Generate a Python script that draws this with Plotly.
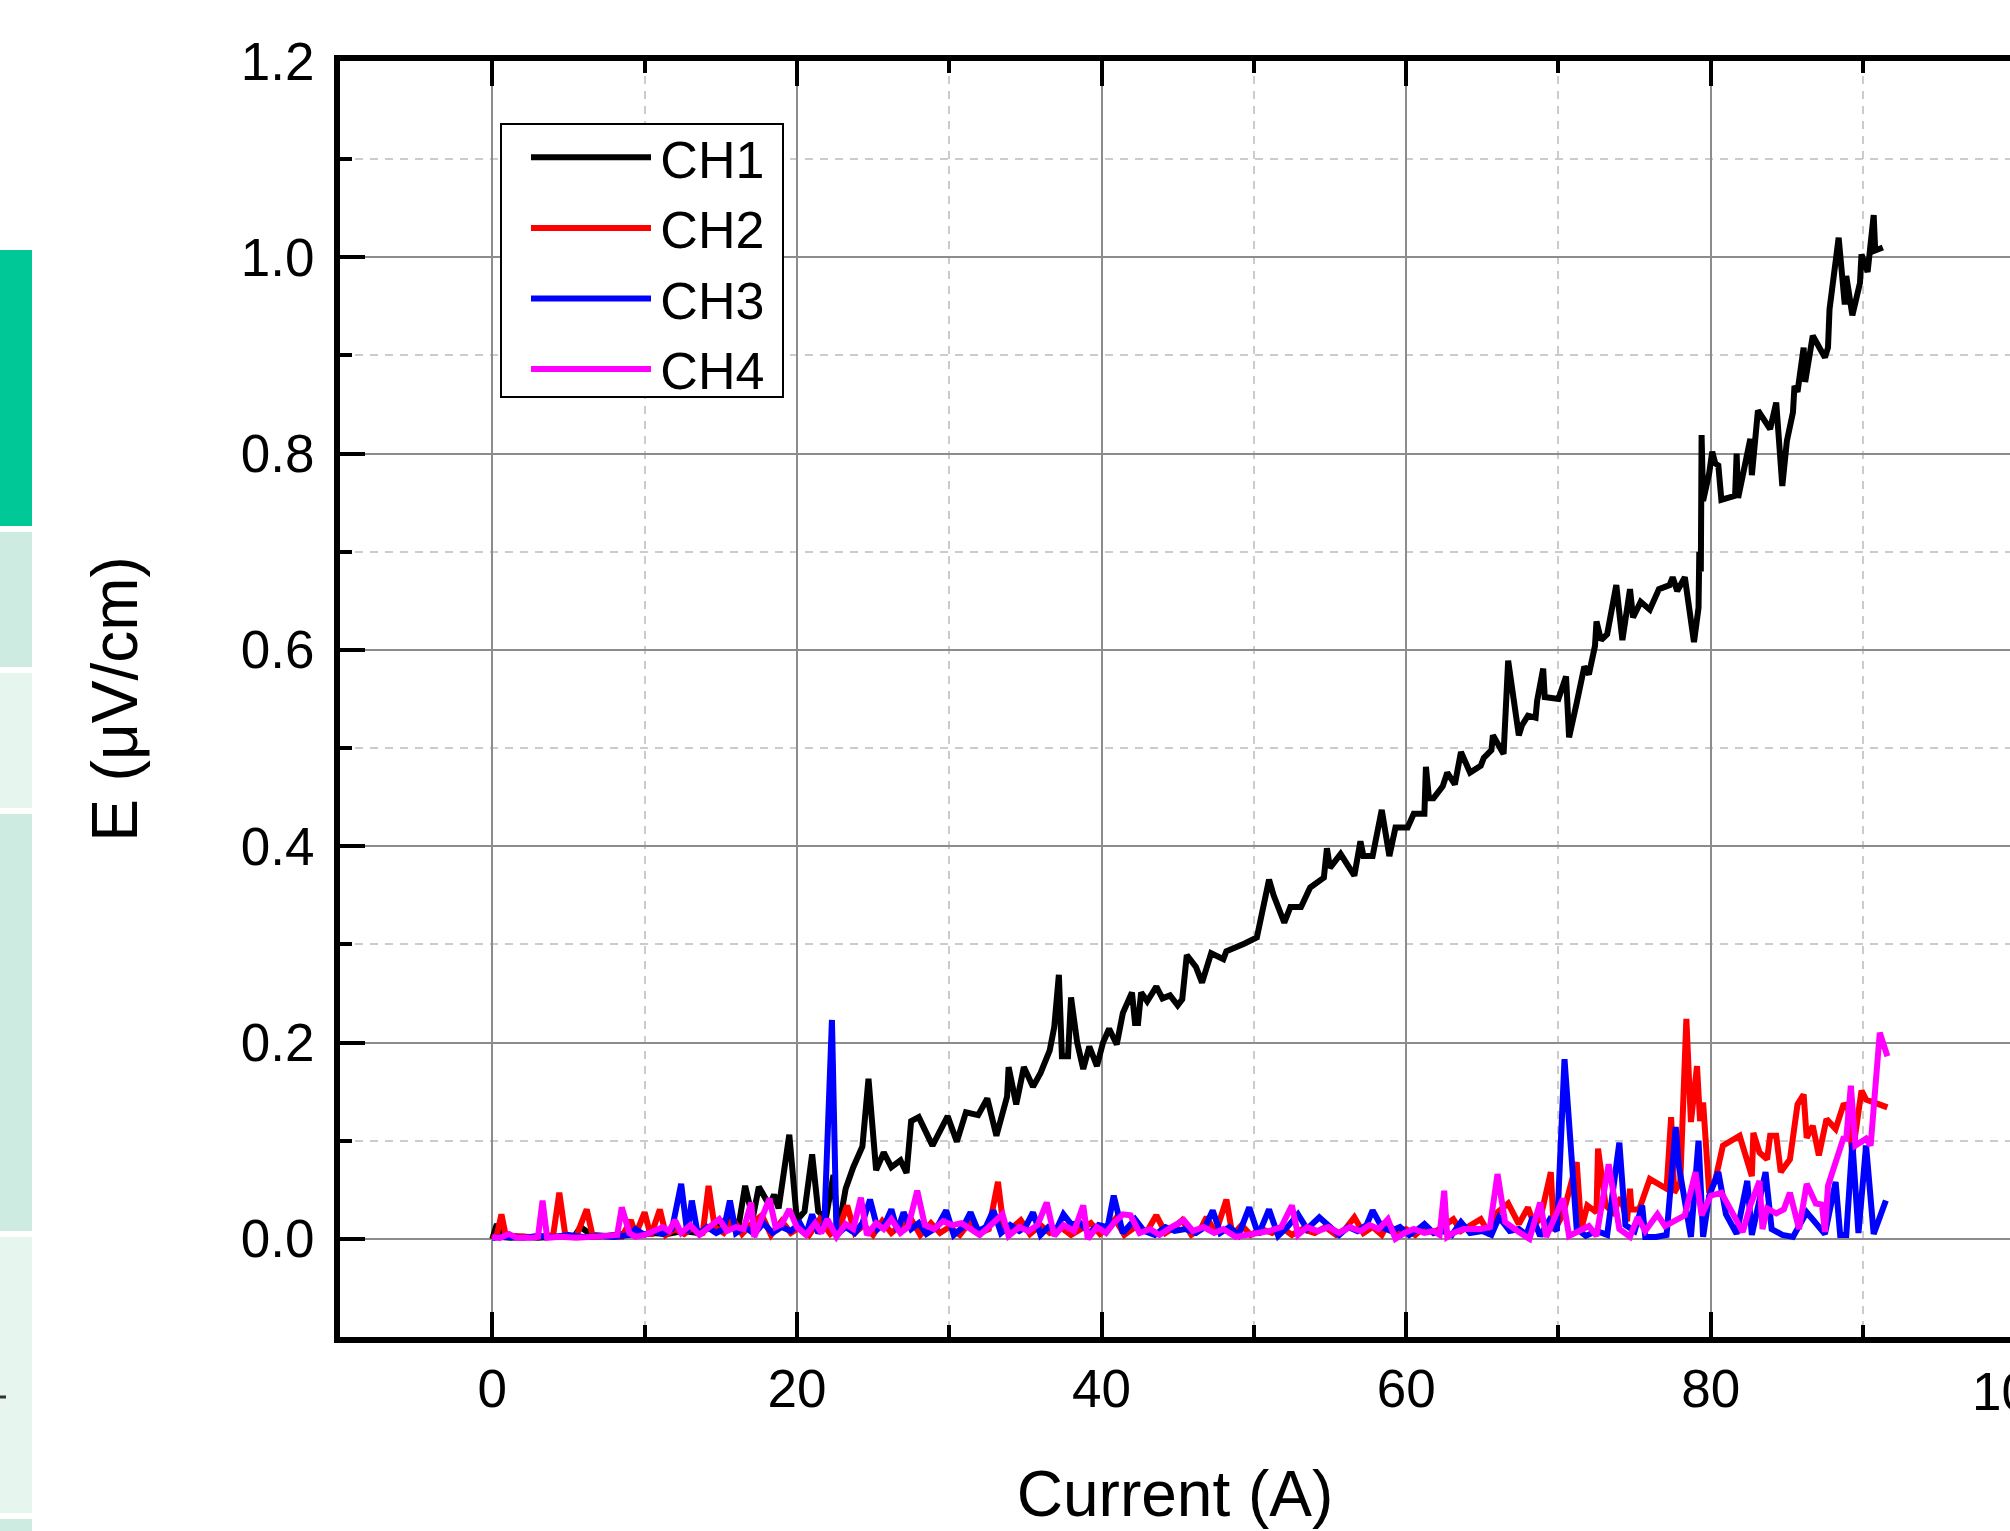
import plotly.graph_objects as go

# E-I curves of the four voltage taps
ch1_current = [0, 0.3, 0.6, 1.2, 2, 3, 4, 5, 5.4, 5.8, 6.5, 7.5, 8.5, 9.5, 10.5, 11.5, 12.5, 13.5,
               14.5, 15, 15.5, 16.2, 16.6, 17.1, 17.5, 18.2, 18.5, 18.8, 19.5, 20, 20.5, 21, 21.4,
               21.9, 22.4, 22.7, 23.2, 23.7, 24.3, 24.7, 25.2, 25.7, 26.2, 26.8, 27.2, 27.5, 28.0,
               28.9, 29.9, 30.5, 31.1, 31.9, 32.5, 33.1, 33.8, 33.9, 34.4, 34.9, 35.5, 36.0, 36.6,
               36.9, 37.2, 37.4, 37.8, 38.0, 38.4, 38.8, 39.2, 39.7, 40.1, 40.5, 41.0, 41.4, 42.0,
               42.2, 42.4, 42.6, 43.0, 43.6, 44.0, 44.5, 45.0, 45.3, 45.6, 46.2, 46.6, 47.2, 48.0,
               48.2, 49.4, 50.2, 51.0, 51.3, 52.0, 52.4, 53.1, 53.7, 54.6, 54.8, 55.0, 55.7, 56.6,
               57.0, 57.2, 57.8, 58.4, 58.9, 59.3, 60.1, 60.5, 61.2, 61.3, 61.5, 61.8, 62.4, 62.7,
               63.2, 63.6, 64.2, 64.9, 65.1, 65.6, 65.7, 66.4, 66.7, 67.4, 67.6, 68.0, 68.5, 68.6,
               69.0, 69.1, 70.0, 70.5, 70.7, 71.2, 71.7, 72.0, 72.4, 72.5, 72.8, 73.2, 73.8, 74.2,
               74.7, 74.9, 75.4, 76.0, 76.6, 77.3, 77.5, 77.8, 78.3, 78.9, 79.2, 79.25, 79.35, 79.4,
               79.5, 79.9, 80.1, 80.3, 80.5, 80.7, 81.6, 81.7, 81.8, 82.6, 82.7, 83.1, 83.9, 84.3,
               84.7, 85.0, 85.4, 85.5, 85.7, 86.1, 86.2, 86.7, 87.5, 87.7, 87.8, 88.4, 88.8, 88.9,
               89.3, 89.8, 89.9, 90.3, 90.7, 90.8, 91.3]
ch1_e = [0.0, 0.015, 0.002, 0.001, 0.002, 0.001, 0.002, 0.003, 0.003, 0.012, 0.004, 0.003, 0.005,
         0.004, 0.006, 0.005, 0.008, 0.006, 0.012, 0.016, 0.021, 0.016, 0.054, 0.021, 0.053, 0.034,
         0.045, 0.031, 0.106, 0.019, 0.028, 0.086, 0.028, 0.021, 0.065, 0.007, 0.051, 0.073, 0.094,
         0.163, 0.07, 0.088, 0.073, 0.08, 0.067, 0.12, 0.124, 0.095, 0.125, 0.099, 0.129, 0.126,
         0.143, 0.105, 0.145, 0.175, 0.137, 0.175, 0.155, 0.169, 0.192, 0.216, 0.269, 0.186, 0.186,
         0.246, 0.2, 0.173, 0.196, 0.176, 0.2, 0.214, 0.198, 0.23, 0.251, 0.22, 0.22, 0.251, 0.242,
         0.257, 0.245, 0.248, 0.238, 0.244, 0.289, 0.277, 0.261, 0.291, 0.285, 0.293, 0.301, 0.307,
         0.366, 0.35, 0.322, 0.338, 0.338, 0.358, 0.368, 0.398, 0.378, 0.392, 0.37, 0.405, 0.39,
         0.39, 0.437, 0.39, 0.419, 0.419, 0.433, 0.433, 0.481, 0.449, 0.449, 0.461, 0.475, 0.463,
         0.496, 0.475, 0.482, 0.49, 0.498, 0.513, 0.494, 0.589, 0.513, 0.523, 0.533, 0.531, 0.548,
         0.581, 0.552, 0.55, 0.573, 0.511, 0.546, 0.583, 0.575, 0.604, 0.629, 0.61, 0.616, 0.666,
         0.61, 0.662, 0.633, 0.649, 0.641, 0.662, 0.666, 0.674, 0.66, 0.674, 0.608, 0.643, 0.70,
         0.68, 0.819, 0.752, 0.78, 0.802, 0.79, 0.788, 0.753, 0.757, 0.80, 0.755, 0.815, 0.778,
         0.844, 0.825, 0.852, 0.767, 0.813, 0.842, 0.869, 0.863, 0.908, 0.873, 0.92, 0.898, 0.908,
         0.947, 1.02, 0.952, 0.981, 0.941, 0.974, 1.003, 0.985, 1.043, 1.007, 1.01]

ch2_current = [0, 0.3, 0.6, 0.9, 1.5, 2.5, 3.5, 4.0, 4.4, 4.8, 5.5, 6.2, 6.6, 7.5, 8.5, 9.1, 9.4,
               10.0, 10.4, 11.0, 11.4, 12.0, 12.6, 13.2, 13.8, 14.2, 14.6, 15.2, 15.8, 16.4, 17.0,
               17.7, 18.3, 19.0, 19.6, 20.2, 20.8, 21.5, 22.2, 22.8, 23.3, 23.8, 24.4, 25.0, 25.6,
               26.2, 26.9, 27.5, 28.1, 28.8, 29.4, 30.0, 30.7, 31.4, 32.0, 32.6, 33.2, 33.6, 34.2,
               34.7, 35.3, 36.0, 36.6, 37.3, 38.0, 38.6, 39.3, 39.9, 40.5, 40.9, 41.5, 42.2, 43.0,
               43.6, 44.2, 44.8, 45.3, 45.9, 46.5, 46.9, 47.5, 48.2, 48.6, 49.2, 49.8, 50.5, 51.2,
               51.8, 52.5, 53.2, 54.0, 54.7, 55.4, 56.0, 56.6, 57.2, 57.8, 58.4, 58.8, 59.4, 60.0,
               60.6, 61.2, 61.8, 62.4, 63.1, 63.6, 64.2, 64.9, 65.5, 66.0, 66.7, 67.4, 68.0, 68.4,
               68.8, 69.5, 69.7, 70.3, 71.2, 71.5, 71.9, 72.5, 72.6, 73.1, 73.6, 74.1, 74.5, 74.7,
               74.8, 75.3, 76.0, 77.1, 77.4, 77.6, 78.0, 78.4, 78.7, 79.1, 79.3, 79.5, 79.9, 80.3,
               80.8, 81.9, 82.7, 82.8, 83.2, 83.7, 83.9, 84.3, 84.6, 85.2, 85.7, 86.1, 86.3, 86.7,
               87.1, 87.6, 88.2, 88.7, 89.0, 89.3, 89.9, 90.2, 91.6]
ch2_e = [0.0, 0.004, 0.025, 0.002, 0.003, 0.002, 0.003, 0.004, 0.047, 0.003, 0.002, 0.03, 0.002,
         0.003, 0.002, 0.019, 0.004, 0.027, 0.003, 0.03, 0.004, 0.01, 0.005, 0.012, 0.004, 0.054,
         0.012, 0.006, 0.02, 0.005, 0.015, 0.024, 0.004, 0.018, 0.006, 0.012, 0.004, 0.02, 0.005,
         0.012, 0.034, 0.006, 0.014, 0.004, 0.018, 0.006, 0.015, 0.02, 0.004, 0.016, 0.006, 0.012,
         0.004, 0.018, 0.006, 0.01, 0.058, 0.008, 0.012, 0.019, 0.005, 0.014, 0.006, 0.012, 0.004,
         0.01, 0.016, 0.005, 0.012, 0.02, 0.004, 0.012, 0.008, 0.024, 0.006, 0.012, 0.019, 0.004,
         0.01, 0.022, 0.006, 0.04, 0.004, 0.014, 0.004, 0.01, 0.006, 0.012, 0.004, 0.01, 0.006,
         0.012, 0.004, 0.01, 0.022, 0.006, 0.012, 0.004, 0.015, 0.006, 0.01, 0.004, 0.012, 0.006,
         0.012, 0.02, 0.008, 0.014, 0.02, 0.004, 0.027, 0.036, 0.015, 0.032, 0.015, 0.02, 0.068,
         0.008, 0.025, 0.078, 0.01, 0.034, 0.027, 0.092, 0.034, 0.027, 0.042, 0.018, 0.051, 0.03,
         0.03, 0.061, 0.051, 0.124, 0.047, 0.058, 0.224, 0.119, 0.176, 0.12, 0.139, 0.047, 0.06,
         0.095, 0.105, 0.064, 0.108, 0.088, 0.081, 0.105, 0.105, 0.068, 0.081, 0.137, 0.147, 0.103,
         0.115, 0.085, 0.122, 0.112, 0.136, 0.137, 0.085, 0.151, 0.142, 0.134]

ch3_current = [0, 1, 2, 3, 4, 5, 6, 7, 8, 9, 9.4, 10, 10.6, 11.2, 11.8, 12.4, 12.8, 13.1, 13.5,
               14.1, 14.7, 15.2, 15.6, 16.0, 16.6, 17.2, 17.8, 18.4, 19.0, 19.6, 20.2, 20.6, 21.0,
               21.4, 21.8, 22.3, 22.6, 23.2, 23.8, 24.3, 24.8, 25.3, 25.8, 26.2, 26.6, 27.0, 27.5,
               28.0, 28.5, 29.2, 29.8, 30.3, 30.9, 31.4, 31.9, 32.4, 32.9, 33.4, 34.0, 34.6, 35.0,
               35.5, 36.0, 36.5, 37.0, 37.5, 38.0, 38.6, 39.2, 39.8, 40.4, 40.8, 41.4, 42.2, 42.8,
               43.5, 44.2, 44.8, 45.5, 46.2, 46.8, 47.3, 47.8, 48.4, 49.0, 49.7, 50.3, 51.0, 51.6,
               52.2, 52.9, 53.5, 54.3, 55.0, 55.6, 56.2, 56.8, 57.4, 57.8, 58.4, 59.0, 59.6, 60.2,
               60.8, 61.2, 61.8, 62.4, 63.0, 63.6, 64.2, 65.0, 65.6, 66.1, 66.8, 67.4, 67.9, 68.3,
               68.8, 69.4, 69.9, 70.4, 71.2, 71.8, 72.5, 73.2, 74.0, 74.4, 75.0, 75.5, 75.7, 76.4,
               77.1, 77.7, 77.9, 78.3, 78.7, 79.2, 79.5, 79.9, 80.5, 81.0, 81.7, 82.4, 82.7, 83.6,
               84.0, 84.7, 85.4, 86.3, 86.7, 87.5, 88.2, 88.5, 88.9, 89.3, 89.7, 90.2, 90.7, 91.5]
ch3_e = [0.001, 0.002, 0.001, 0.003, 0.002, 0.004, 0.002, 0.003, 0.002, 0.004, 0.01, 0.004, 0.008,
         0.005, 0.01, 0.056, 0.006, 0.039, 0.004, 0.012, 0.006, 0.01, 0.039, 0.006, 0.012, 0.005,
         0.016, 0.006, 0.012, 0.008, 0.016, 0.004, 0.025, 0.006, 0.015, 0.223, 0.004, 0.012, 0.006,
         0.016, 0.04, 0.01, 0.016, 0.03, 0.008, 0.027, 0.01, 0.016, 0.005, 0.012, 0.029, 0.004,
         0.012, 0.027, 0.008, 0.012, 0.029, 0.006, 0.014, 0.008, 0.012, 0.027, 0.004, 0.012, 0.008,
         0.025, 0.015, 0.016, 0.006, 0.014, 0.012, 0.044, 0.006, 0.02, 0.008, 0.004, 0.012, 0.008,
         0.01, 0.006, 0.012, 0.029, 0.006, 0.012, 0.004, 0.032, 0.004, 0.03, 0.003, 0.012, 0.025,
         0.01, 0.022, 0.012, 0.004, 0.012, 0.008, 0.014, 0.029, 0.012, 0.008, 0.012, 0.004, 0.01,
         0.015, 0.006, 0.008, 0.004, 0.017, 0.006, 0.008, 0.004, 0.022, 0.008, 0.01, 0.004, 0.022,
         0.003, 0.019, 0.008, 0.183, 0.01, 0.003, 0.008, 0.004, 0.098, 0.014, 0.008, 0.034, 0.002,
         0.002, 0.004, 0.114, 0.075, 0.034, 0.002, 0.1, 0.002, 0.044, 0.068, 0.025, 0.005, 0.059,
         0.004, 0.068, 0.01, 0.004, 0.002, 0.027, 0.02, 0.005, 0.058, 0.004, 0.004, 0.098, 0.006,
         0.095, 0.005, 0.039]

ch4_current = [0, 0.5, 1.1, 1.6, 2.5, 3.0, 3.3, 3.6, 4.5, 5.5, 6.5, 7.5, 8.2, 8.5, 9.0, 9.4, 10.0,
               10.6, 11.2, 11.6, 12.0, 12.4, 13.0, 13.6, 14.3, 14.9, 15.4, 16.0, 16.5, 17.0, 17.2,
               17.7, 18.2, 18.6, 19.0, 19.5, 20.0, 20.6, 21.2, 21.6, 22.0, 22.6, 23.2, 23.7, 24.2,
               24.6, 25.2, 25.7, 26.2, 26.8, 27.3, 27.9, 28.4, 29.0, 29.6, 30.2, 30.8, 31.4, 32.0,
               32.6, 33.5, 33.9, 34.6, 35.2, 35.8, 36.4, 36.9, 37.5, 38.2, 38.8, 39.1, 39.7, 40.3,
               40.8, 41.4, 41.9, 42.5, 43.2, 43.8, 44.6, 45.4, 46.0, 46.7, 47.4, 48.0, 48.8, 49.6,
               50.4, 51.0, 51.8, 52.5, 52.9, 53.5, 54.2, 54.9, 55.6, 56.3, 57.0, 57.6, 58.2, 58.8,
               59.3, 59.9, 60.5, 61.2, 61.8, 62.2, 62.5, 62.7, 63.1, 63.8, 64.9, 65.5, 66.0, 66.5,
               67.4, 68.1, 68.8, 69.2, 70.3, 70.7, 72.0, 72.5, 73.3, 74.0, 74.7, 75.2, 75.7, 76.5,
               77.0, 78.3, 79.0, 79.4, 80.0, 80.7, 81.3, 82.1, 82.6, 83.2, 83.4, 83.7, 84.3, 84.8,
               85.2, 85.8, 86.3, 86.9, 87.3, 87.5, 87.7, 88.2, 88.7, 88.9, 89.2, 89.5, 90.2, 90.5,
               91.1, 91.6]
ch4_e = [0.002, 0.001, 0.005, 0.001, 0.001, 0.002, 0.039, 0.001, 0.002, 0.001, 0.002, 0.004, 0.004,
         0.032, 0.006, 0.002, 0.004, 0.008, 0.012, 0.008, 0.019, 0.006, 0.014, 0.004, 0.012, 0.02,
         0.008, 0.012, 0.01, 0.037, 0.002, 0.02, 0.041, 0.012, 0.015, 0.03, 0.012, 0.004, 0.016,
         0.006, 0.02, 0.002, 0.015, 0.01, 0.042, 0.004, 0.016, 0.01, 0.02, 0.006, 0.012, 0.049,
         0.014, 0.01, 0.018, 0.014, 0.016, 0.01, 0.004, 0.012, 0.025, 0.003, 0.012, 0.008, 0.014,
         0.037, 0.003, 0.014, 0.008, 0.034, 0.0, 0.012, 0.006, 0.016, 0.025, 0.024, 0.006, 0.01,
         0.004, 0.012, 0.019, 0.008, 0.012, 0.006, 0.01, 0.002, 0.004, 0.006, 0.008, 0.012, 0.034,
         0.004, 0.012, 0.008, 0.012, 0.006, 0.012, 0.008, 0.014, 0.01, 0.02, 0.0, 0.006, 0.01,
         0.006, 0.008, 0.004, 0.049, 0.002, 0.006, 0.01, 0.01, 0.012, 0.066, 0.017, 0.007, 0.0,
         0.037, 0.002, 0.041, 0.003, 0.013, 0.003, 0.076, 0.01, 0.002, 0.022, 0.008, 0.025, 0.013,
         0.024, 0.068, 0.024, 0.044, 0.047, 0.03, 0.007, 0.034, 0.059, 0.01, 0.031, 0.026, 0.03,
         0.047, 0.01, 0.056, 0.036, 0.035, 0.007, 0.054, 0.08, 0.102, 0.102, 0.156, 0.095, 0.102,
         0.095, 0.21, 0.186]

channels = ["CH1", "CH2", "CH3", "CH4"]
colors = ["#000000", "#ff0000", "#0000ff", "#ff00ff"]

FONT = "Arial, Liberation Sans, Helvetica, sans-serif"
W, H = 2010, 1531
ML, MT, MB = 340, 61, 194
PW, PH = W - ML, H - MT - MB


def px_x(p):
    # page pixel -> paper coordinate
    return (p - ML) / PW


def px_y(p):
    return (H - MB - p) / PH


fig = go.Figure()
for name, xs, ys, c in zip(channels,
                           [ch1_current, ch2_current, ch3_current, ch4_current],
                           [ch1_e, ch2_e, ch3_e, ch4_e], colors):
    fig.add_trace(go.Scatter(x=xs, y=ys, mode="lines", name="\u200a" + name,
                             line=dict(color=c, width=6)))

axis_common = dict(
    ticks="inside", ticklen=25, tickwidth=4, tickcolor="black",
    showline=True, linewidth=6, linecolor="black", automargin=False,
    showgrid=True, gridcolor="#8c8c8c", gridwidth=2,
    zeroline=False, tickfont=dict(size=53, color="black", family=FONT),
)
minor_common = dict(ticks="inside", ticklen=12, tickwidth=4, tickcolor="black",
                    showgrid=True, gridcolor="#cccccc", gridwidth=1.5, griddash="8px,7px")

fig.update_xaxes(
    **axis_common, range=[-10, 99.65], tick0=0, dtick=20, mirror="ticks",
    minor=dict(dtick=10, tick0=0, **minor_common),
    ticklabelstandoff=0,
    title=dict(text="Current (A)", font=dict(size=64, color="black", family=FONT), standoff=57),
)
fig.update_yaxes(
    **axis_common, range=[-0.1, 1.2], tick0=0, dtick=0.2, tickformat=".1f",
    minor=dict(dtick=0.1, tick0=0, **minor_common),
    ticklabelstandoff=9,
    title=dict(text="E (μV/cm)", font=dict(size=64, color="black", family=FONT), standoff=84),
)

# partly visible "100" tick label at the cut right edge
fig.add_annotation(x=px_x(2016), y=px_y(1391), xref="paper", yref="paper",
                   text="100", showarrow=False, xanchor="center", yanchor="middle",
                   font=dict(size=53, color="black", family=FONT))

# legend frame (opaque, covers the grid like the original)
fig.add_shape(type="rect", xref="paper", yref="paper", layer="above",
              x0=px_x(501), x1=px_x(783), y0=px_y(397), y1=px_y(124),
              line=dict(color="black", width=2), fillcolor="white")

# coloured strip cut off at the left edge of the picture
strip = [(250, 526, "#00c896"), (532, 667, "#cdebe0"), (673, 808, "#e6f5ee"),
         (814, 1231, "#cdebe0"), (1237, 1513, "#e6f5ee"), (1519, 1531, "#cdebe0")]
for top, bot, col in strip:
    fig.add_shape(type="rect", xref="paper", yref="paper",
                  x0=px_x(0), x1=px_x(32), y0=px_y(bot), y1=px_y(top),
                  line=dict(width=0), fillcolor=col)
fig.add_shape(type="line", xref="paper", yref="paper",
              x0=px_x(0), x1=px_x(6), y0=px_y(1397), y1=px_y(1397),
              line=dict(color="#333333", width=3))

fig.update_layout(
    width=W, height=H,
    margin=dict(l=ML, r=0, t=MT, b=MB, pad=0, autoexpand=False),
    paper_bgcolor="white", plot_bgcolor="white",
    font=dict(family=FONT, color="black"),
    showlegend=True,
    legend=dict(x=px_x(526), y=px_y(117), xanchor="left", yanchor="top",
                bgcolor="rgba(0,0,0,0)", borderwidth=0,
                font=dict(size=52, color="black", family=FONT),
                itemwidth=120, tracegroupgap=0),
)

# the page's default 8px body margin would shift and scroll the figure
fig.write_html("out.html", config={"displayModeBar": False},
               post_script="document.body.style.margin='0';"
                           "document.body.style.overflow='hidden';")
